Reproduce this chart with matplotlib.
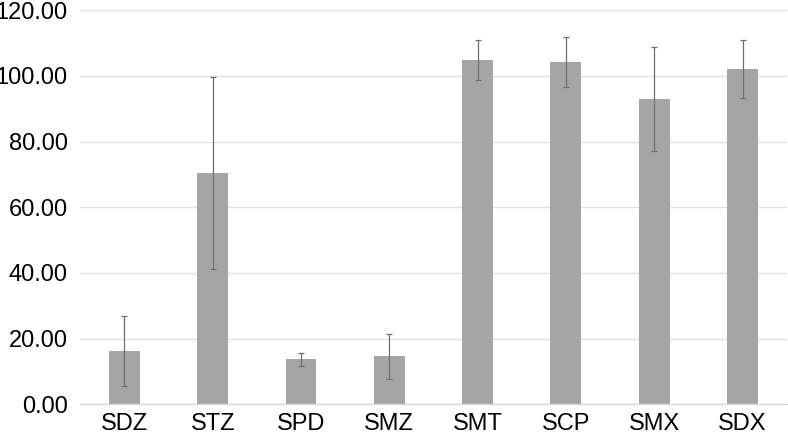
import numpy as np
import matplotlib.pyplot as plt

# Data
categories = ["SDZ", "STZ", "SPD", "SMZ", "SMT", "SCP", "SMX", "SDX"]
means = [16.3, 70.4, 13.7, 14.6, 104.8, 104.3, 93.0, 102.2]
errors = [10.6, 29.2, 1.9, 6.9, 6.0, 7.6, 15.9, 8.8]
yTicks = [0, 20, 40, 60, 80, 100, 120]

plt.rcParams['font.family'] = ['Liberation Sans', 'DejaVu Sans']

fig = plt.figure(figsize=(7.88, 4.34), dpi=100)
ax = fig.add_axes([0.1019, 0.0684, 0.8964, 0.9079])

x = np.arange(len(categories))
ax.bar(x, means, width=0.35, color='#a5a5a5', zorder=2)
ax.errorbar(x, means, yerr=errors, fmt='none', ecolor='#6e6e6e',
            elinewidth=0.9, capsize=2.5, capthick=0.9, zorder=3)

ax.set_xlim(-0.5, len(categories) - 0.5)
ax.set_ylim(0, 120)
ax.set_yticks(yTicks)
ax.set_yticklabels([f"{v:.2f}" for v in yTicks])
ax.set_xticks(x)
ax.set_xticklabels(categories)
ax.tick_params(axis='both', length=0, labelsize=17, colors='black')
ax.tick_params(axis='y', pad=9)
ax.tick_params(axis='x', pad=6)

ax.grid(axis='y', color='#e0e0e0', linewidth=1, zorder=0)
for side in ['top', 'right', 'left']:
    ax.spines[side].set_visible(False)
ax.spines['bottom'].set_color('#d9d9d9')
ax.spines['bottom'].set_linewidth(1)

fig.savefig("out.png", dpi=100)
